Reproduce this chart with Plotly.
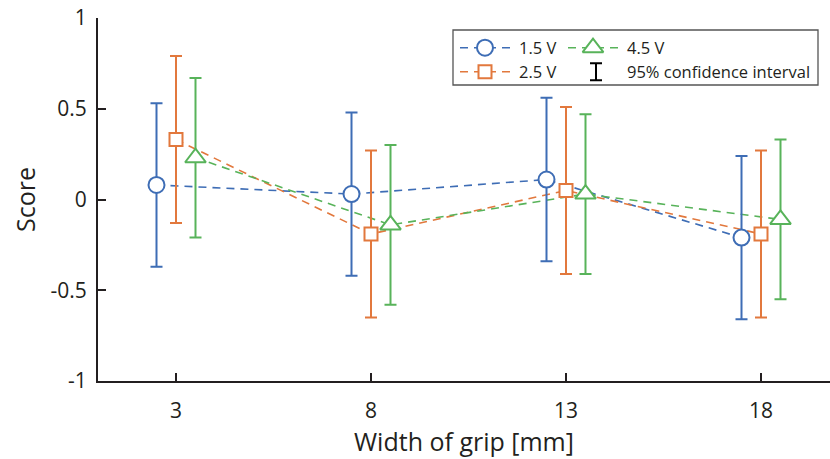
import plotly.graph_objects as go

# Grip widths tested [mm] and mean scores per voltage
widths = [3, 8, 13, 18]
score_15v = [0.08, 0.03, 0.11, -0.21]
score_25v = [0.33, -0.19, 0.05, -0.19]
score_45v = [0.23, -0.14, 0.03, -0.11]
# half-width of the 95% confidence interval
ci_15v = [0.45, 0.45, 0.45, 0.45]
ci_25v = [0.46, 0.46, 0.46, 0.46]
ci_45v = [0.44, 0.44, 0.44, 0.44]

x_ticks = [3, 8, 13, 18]
y_ticks = [-1, -0.5, 0, 0.5, 1]
y_tick_labels = ["-1", "-0.5", "0", "0.5", "1"]

FONT = "Open Sans"
TXT = "#231f20"
W, H = 830, 459
ML, MR, MT, MB = 98, 0, 18, 78

series = [
    dict(name="1.5 V", y=score_15v, e=ci_15v, color="#3e6db5", symbol="circle", size=16, dx=-0.5),
    dict(name="2.5 V", y=score_25v, e=ci_25v, color="#e2783d", symbol="square", size=13, dx=0.0),
    dict(name="4.5 V", y=score_45v, e=ci_45v, color="#58b35a", symbol="triangle-up", size=18, dx=0.5),
]

fig = go.Figure()
for s in series:
    xs = [w + s["dx"] for w in widths]
    fig.add_trace(go.Scatter(
        x=xs, y=s["y"], mode="lines", showlegend=False,
        line=dict(color=s["color"], width=1.6, dash="8px,6px"),
        hoverinfo="skip",
    ))
for s in series:
    xs = [w + s["dx"] for w in widths]
    fig.add_trace(go.Scatter(
        x=xs, y=s["y"], mode="markers", name=s["name"], showlegend=False,
        marker=dict(symbol=s["symbol"], size=s["size"], color="white",
                    line=dict(color=s["color"], width=2)),
        error_y=dict(type="data", array=s["e"], symmetric=True,
                     color=s["color"], thickness=2, width=6),
    ))

# ---- hand-built legend on an overlay axis spanning the plot area ----
PW, PH = W - ML - MR, H - MT - MB


def px(x):
    return (x - ML) / PW


def py(y):
    return (H - MB - y) / PH


legend_items = [
    (series[0], 460, 47.7),
    (series[2], 568, 47.7),
    (series[1], 460, 71.7),
]
for s, x0, yrow in legend_items:
    fig.add_trace(go.Scatter(
        x=[px(x0), px(x0 + 50)], y=[py(yrow), py(yrow)], mode="lines",
        xaxis="x2", yaxis="y2", showlegend=False, hoverinfo="skip",
        line=dict(color=s["color"], width=1.6, dash="8px,6px"),
    ))
    fig.add_trace(go.Scatter(
        x=[px(x0 + 25)], y=[py(yrow)], mode="markers",
        xaxis="x2", yaxis="y2", showlegend=False, hoverinfo="skip",
        marker=dict(symbol=s["symbol"], size=s["size"], color="white",
                    line=dict(color=s["color"], width=2)),
    ))
    fig.add_annotation(x=px(x0 + 57), y=py(yrow), xref="paper", yref="paper",
                       text=s["name"], showarrow=False, xanchor="left", yanchor="middle",
                       font=dict(family=FONT, size=16.5, color=TXT))

# confidence-interval key
fig.add_trace(go.Scatter(
    x=[px(596)], y=[py(71.7)], mode="markers",
    xaxis="x2", yaxis="y2", showlegend=False, hoverinfo="skip",
    marker=dict(size=1, opacity=0),
    error_y=dict(type="constant", value=8.5 / PH, color="black", thickness=2, width=6),
))
fig.add_annotation(x=px(625), y=py(71.7), xref="paper", yref="paper",
                   text="95% confidence interval", showarrow=False,
                   xanchor="left", yanchor="middle",
                   font=dict(family=FONT, size=16.5, color=TXT))

fig.add_shape(type="rect", xref="paper", yref="paper",
              x0=px(453), x1=px(818), y0=py(85), y1=py(30),
              line=dict(color="#555555", width=1.3), fillcolor="white", layer="below")

fig.update_layout(
    width=W, height=H,
    margin=dict(l=ML, r=MR, t=MT, b=MB, pad=0),
    paper_bgcolor="white", plot_bgcolor="white",
    font=dict(family=FONT, color=TXT),
    showlegend=False,
    xaxis=dict(
        range=[1, 1 + PW / 39.0], tickvals=x_ticks, ticktext=[str(t) for t in x_ticks],
        showgrid=False, zeroline=False, showline=True, linecolor="#231f20", linewidth=2,
        ticks="inside", ticklen=8, tickwidth=2, tickcolor="#231f20",
        tickfont=dict(family=FONT, size=21, color=TXT), ticklabelstandoff=10,
        title=dict(text="Width of grip [mm]", font=dict(family=FONT, size=25, color=TXT), standoff=4),
    ),
    yaxis=dict(
        range=[-1, 1], tickvals=y_ticks, ticktext=y_tick_labels,
        showgrid=False, zeroline=False, showline=True, linecolor="#231f20", linewidth=2,
        ticks="inside", ticklen=8, tickwidth=2, tickcolor="#231f20",
        tickfont=dict(family=FONT, size=21, color=TXT), ticklabelstandoff=5,
        title=dict(text="Score", font=dict(family=FONT, size=25, color=TXT), standoff=8),
    ),
    xaxis2=dict(domain=[0, 1], range=[0, 1], overlaying="x", anchor="y2", visible=False, fixedrange=True),
    yaxis2=dict(domain=[0, 1], range=[0, 1], overlaying="y", anchor="x2", visible=False, fixedrange=True),
)

fig.write_html("out.html")
